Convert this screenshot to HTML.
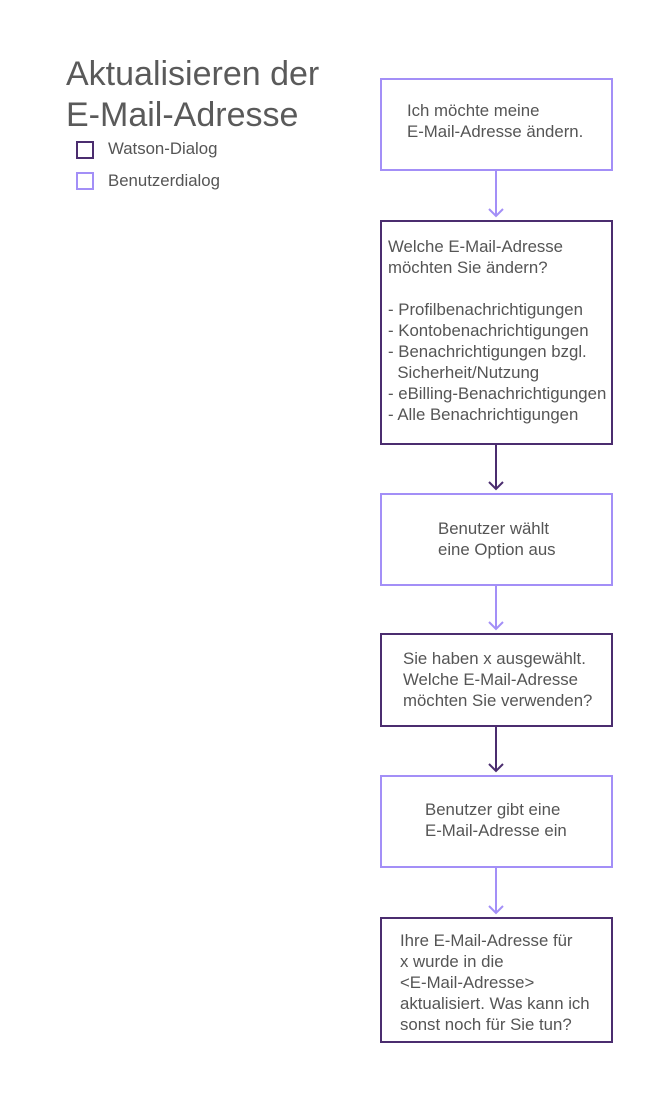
<!DOCTYPE html>
<html><head><meta charset="utf-8"><style>
body{margin:0;width:672px;height:1101px;background:#fff;font-family:"Liberation Sans",sans-serif;color:#555;position:relative;overflow:hidden}
.a{position:absolute}
.box{position:absolute;left:380px;width:229px;box-sizing:content-box}
.u{border:2px solid #a38ff7}
.w{border:2px solid #4b2d6f}
.t{position:absolute;white-space:pre;font-size:16.8px;line-height:21px}
</style></head><body>
<div class="a" style="left:66px;top:54px;font-size:34px;line-height:41px;color:#5a5a5a">Aktualisieren der<br>E-Mail-Adresse</div>
<div class="a" style="left:76px;top:141px;width:14px;height:14px;border:2px solid #4b2d6f"></div>
<div class="a" style="left:108px;top:139px;font-size:16.8px">Watson-Dialog</div>
<div class="a" style="left:76px;top:172px;width:14px;height:14px;border:2px solid #a38ff7"></div>
<div class="a" style="left:108px;top:171px;font-size:16.8px">Benutzerdialog</div>

<div class="box u" style="top:78px;height:89px"></div>
<div class="t" style="left:407px;top:100px">Ich möchte meine
E-Mail-Adresse ändern.</div>
<div class="box w" style="top:220px;height:221px"></div>
<div class="t" style="left:388px;top:236px">Welche E-Mail-Adresse
möchten Sie ändern?

- Profilbenachrichtigungen
- Kontobenachrichtigungen
- Benachrichtigungen bzgl.
  Sicherheit/Nutzung
- eBilling-Benachrichtigungen
- Alle Benachrichtigungen</div>
<div class="box u" style="top:493px;height:89px"></div>
<div class="t" style="left:438px;top:518px">Benutzer wählt
eine Option aus</div>
<div class="box w" style="top:633px;height:90px"></div>
<div class="t" style="left:403px;top:648px">Sie haben x ausgewählt.
Welche E-Mail-Adresse
möchten Sie verwenden?</div>
<div class="box u" style="top:775px;height:89px"></div>
<div class="t" style="left:425px;top:799px">Benutzer gibt eine
E-Mail-Adresse ein</div>
<div class="box w" style="top:917px;height:122px"></div>
<div class="t" style="left:400px;top:930px">Ihre E-Mail-Adresse für
x wurde in die
&lt;E-Mail-Adresse&gt;
aktualisiert. Was kann ich
sonst noch für Sie tun?</div>

<svg class="a" style="left:0;top:0" width="672" height="1101" fill="none" stroke-width="2">
<g stroke="#a38ff7"><path d="M496 169V216M489 209l7 7 7-7"/><path d="M496 584V629M489 622l7 7 7-7"/><path d="M496 866V913M489 906l7 7 7-7"/></g>
<g stroke="#4b2d6f"><path d="M496 443V489M489 482l7 7 7-7"/><path d="M496 725V771M489 764l7 7 7-7"/></g>
</svg>
</body></html>
